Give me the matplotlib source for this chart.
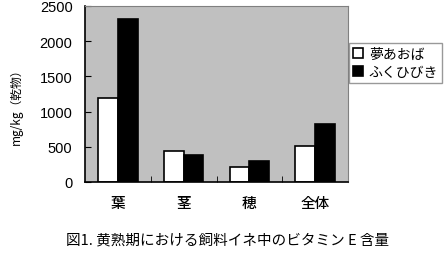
import matplotlib.pyplot as plt
import numpy as np

plt.rcParams["font.family"] = ["Noto Sans CJK JP", "DejaVu Sans"]

categories = ["葉", "茎", "穂", "全体"]
yume_aoba = [1190, 435, 210, 510]
fuku_hibiki = [2320, 390, 305, 820]
series_names = ["夢あおば", "ふくひびき"]

fig = plt.figure(figsize=(4.48, 2.55), dpi=100)
ax = fig.add_axes([85 / 448, 1 - 183 / 255, 263 / 448, 176 / 255])
ax.set_facecolor("#c0c0c0")

x = np.arange(len(categories))
w = 0.3
ax.bar(x - w / 2, yume_aoba, w, color="white", edgecolor="black", linewidth=1.2, label=series_names[0])
ax.bar(x + w / 2, fuku_hibiki, w, color="black", edgecolor="black", linewidth=1.2, label=series_names[1])

ax.set_xlim(-0.5, len(categories) - 0.5)
ax.set_ylim(0, 2500)
ax.set_yticks(np.arange(0, 2501, 500))
ax.set_yticklabels([str(v) for v in range(0, 2501, 500)], family="Liberation Sans", fontsize=10.5)

# category labels sit in the middle, tick marks on the boundaries
ax.set_xticks(x)
ax.set_xticklabels(categories, fontsize=10.5, fontweight="medium")
ax.tick_params(axis="x", length=0, pad=10)
ax.set_xticks(np.arange(0.5, len(categories) - 1, 1), minor=True)
ax.tick_params(axis="x", which="minor", direction="in", length=4)
ax.tick_params(axis="y", direction="in", length=4, pad=9)

for side in ["top", "right"]:
    ax.spines[side].set_color("#808080")
for side in ["left", "bottom"]:
    ax.spines[side].set_color("black")
    ax.spines[side].set_linewidth(1.2)

ax.set_ylabel("mg/kg（乾物）", fontsize=8.5)
ax.yaxis.set_label_coords(-0.235, 0.45)

leg = ax.legend(loc="upper left", bbox_to_anchor=(1.005, 0.79), frameon=True, fancybox=False,
                edgecolor="#808080", fontsize=10, handlelength=0.7, handleheight=0.7,
                handletextpad=0.4, borderpad=0.3, labelspacing=0.25, borderaxespad=0)
leg.get_frame().set_linewidth(1)

fig.text(0.5 + 4 / 448, 1 - 240 / 255, "図1. 黄熟期における飼料イネ中のビタミン E 含量",
         ha="center", va="center", fontsize=10.5)

fig.savefig("out.png", dpi=100)
